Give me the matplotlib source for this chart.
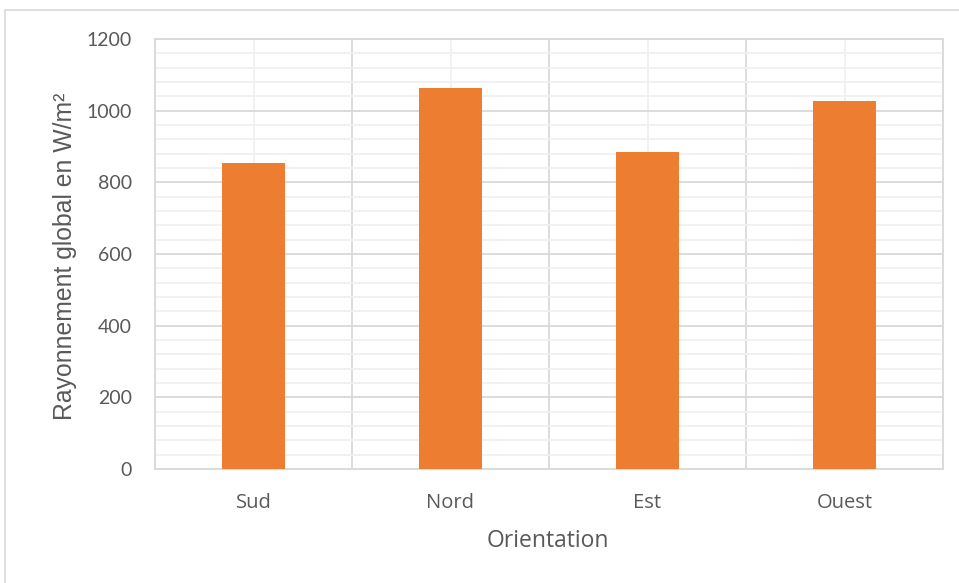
import matplotlib.pyplot as plt
from matplotlib.patches import Rectangle
from matplotlib.ticker import MultipleLocator
import numpy as np

categories = ["Sud", "Nord", "Est", "Ouest"]
rayonnement = [854, 1062, 886, 1027]

plt.rcParams["font.family"] = ["Lato", "DejaVu Sans"]
grey = "#595959"

fig = plt.figure(figsize=(9.59, 5.83), dpi=100)
ax = fig.add_axes([155 / 959, 1 - 469 / 583, (943 - 155) / 959, (469 - 39) / 583])

x = np.arange(len(categories))
ax.bar(x, rayonnement, width=0.315, color="#ed7d31", zorder=3)

ax.set_xlim(-0.5, len(categories) - 0.5)
ax.set_ylim(0, 1200)
ax.yaxis.set_major_locator(MultipleLocator(200))
ax.yaxis.set_minor_locator(MultipleLocator(40))
ax.set_xticks(x)
ax.set_xticklabels(categories, family="Open Sans", fontsize=14.5, color=grey)
ax.set_xticks(np.arange(len(categories) + 1) - 0.5, minor=True)

# gridlines like the Excel chart
ax.grid(which="major", axis="y", color="#d9d9d9", lw=1.3, zorder=1)
ax.grid(which="minor", axis="y", color="#f0f0f0", lw=1.3, zorder=0)
ax.grid(which="minor", axis="x", color="#d9d9d9", lw=1.3, zorder=1)
ax.grid(which="major", axis="x", color="#f0f0f0", lw=1.3, zorder=0)

for s in ax.spines.values():
    s.set_color("#d9d9d9")
    s.set_linewidth(1.3)

ax.tick_params(which="both", length=0)
ax.tick_params(axis="y", labelsize=14, labelcolor=grey, pad=16.5)
ax.tick_params(axis="x", pad=17)

fig.text(548 / 959, 1 - 541 / 583, "Orientation", family="Open Sans",
         fontsize=16.5, color=grey, ha="center", va="center")
fig.text(65 / 959, 1 - 256 / 583, "Rayonnement global en W/m²",
         family="Liberation Sans", fontsize=17.8, color=grey,
         rotation=90, ha="center", va="center")

fig.patches.append(Rectangle((5 / 959, -0.1), 1.1, 1 - 10 / 583 + 0.1,
                             transform=fig.transFigure, fill=False,
                             edgecolor="#d9d9d9", lw=1.2))

fig.savefig("out.png", dpi=100)
